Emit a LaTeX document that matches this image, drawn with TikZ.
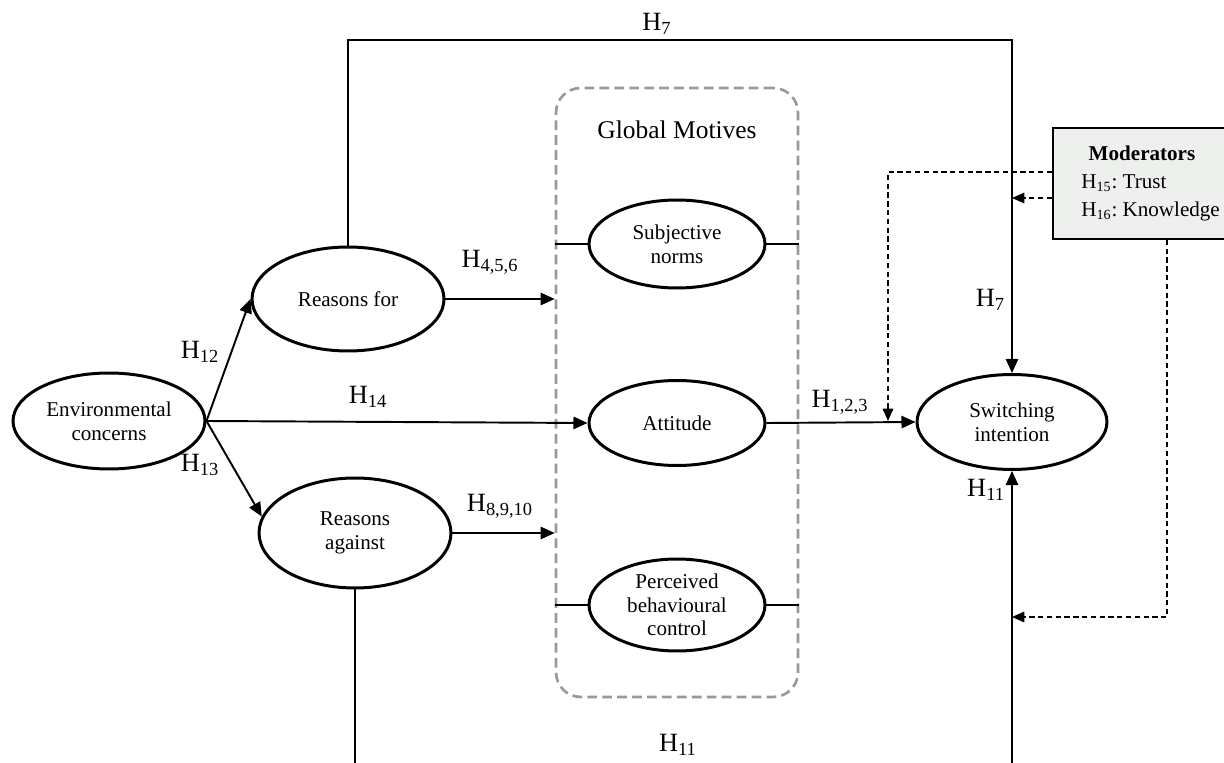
\documentclass[tikz,border=0pt]{standalone}
\usepackage{fontspec}
\setmainfont{Liberation Serif}
\usetikzlibrary{arrows.meta,shapes.geometric}
\definecolor{modfill}{HTML}{EEF0EE}
\definecolor{boxgray}{HTML}{999999}
\frenchspacing
\begin{document}
\begin{tikzpicture}[x=0.02cm,y=-0.02cm,
  ell/.style={draw,ellipse,line width=1.7pt,inner sep=0pt,align=center,font=\fontsize{12}{13.5}\selectfont},
  arr/.style={line width=1.1pt,-{Triangle[length=8pt,width=7pt]}},
  ln/.style={line width=1.1pt},
  hl/.style={font=\fontsize{15}{17}\selectfont,inner sep=1pt},
  dsh/.style={line width=0.8pt,dash pattern=on 3pt off 2pt},
  darr/.style={dsh,-{Triangle[length=7pt,width=6pt]}},
  modtext/.style={font=\fontsize{12}{14}\selectfont,inner sep=0pt}
]
\useasboundingbox (0,0) rectangle (1224,763);
\clip (0,0) rectangle (1224,763);

% global motives box
\node[draw=boxgray,line width=1.5pt,dash pattern=on 5.5pt off 3pt,rounded corners=14pt,
      minimum width=4.84cm,minimum height=12.18cm,inner sep=0pt] (gmbox) at (677,392.5) {};
\node[font=\fontsize{14.5}{16}\selectfont] (gm) at (677,130) {Global Motives};

% ellipses
\node[ell,minimum width=3.84cm,minimum height=1.92cm] (env) at (109,421) {Environmental\\concerns};
\node[ell,minimum width=3.84cm,minimum height=2.08cm] (rf) at (348,299) {Reasons for};
\node[ell,minimum width=3.84cm,minimum height=2.2cm] (ra) at (355,533) {Reasons\\against};
\node[ell,minimum width=3.52cm,minimum height=1.76cm] (sn) at (677,244) {Subjective\\norms};
\node[ell,minimum width=3.52cm,minimum height=1.7cm] (att) at (677,423) {Attitude};
\node[ell,minimum width=3.52cm,minimum height=1.84cm] (pbc) at (677,605) {Perceived\\behavioural\\control};
\node[ell,minimum width=3.8cm,minimum height=1.9cm] (si) at (1012,422) {Switching\\intention};

% moderators box
\node[draw,line width=1.1pt,fill=modfill,anchor=north west,minimum width=3.8cm,minimum height=2.22cm,inner sep=0pt] (mod) at (1052,127) {};
\node[modtext,font=\fontsize{12}{14}\selectfont\bfseries] (modt) at (1142,153) {Moderators};
\node[modtext,anchor=west] (m15) at (1081,183) {H\textsubscript{15}: Trust};
\node[modtext,anchor=west] (m16) at (1081,211) {H\textsubscript{16}: Knowledge};

% helper coordinates
\coordinate (top) at (0,40);
\coordinate (bot) at (0,780);
\coordinate (y617) at (0,617);
\coordinate (y172) at (0,172);
\coordinate (y198) at (0,198);
\coordinate (x1167) at (1167,0);
\coordinate (m1) at (888,421);

% connectors
\draw[arr] (env.east) -- (rf.west);
\draw[arr] (env.east) -- (ra.170);
\draw[arr] (env.east) -- (att.west);
\draw[arr] (rf.east) -- (rf.east -| gmbox.west);
\draw[arr] (ra.east) -- (ra.east -| gmbox.west);
\draw[ln] (sn.west -| gmbox.west) -- (sn.west);
\draw[ln] (sn.east) -- (sn.east -| gmbox.east);
\draw[ln] (pbc.west -| gmbox.west) -- (pbc.west);
\draw[ln] (pbc.east) -- (pbc.east -| gmbox.east);
\draw[arr] (att.east) -- (si.west);
\draw[arr] (rf.north) -- (rf.north |- top) -| (si.north);
\draw[ln] (ra.south) -- (ra.south |- bot);
\draw[arr] (si.south |- bot) -- (si.south);

% moderator dashed connectors
\draw[darr] (mod.west |- y172) -| (m1);
\draw[darr] (mod.west |- y198) -- (si.north |- y198);
\draw[darr] (x1167 |- mod.south) -- (x1167 |- y617) -- (si.south |- y617);

% labels
\node[hl] (h7a) at (657,24) {H\textsubscript{7}};
\node[hl,anchor=east] (h7b) at (1007,300) {H\textsubscript{7}};
\node[hl] (h12) at (200,352) {H\textsubscript{12}};
\node[hl] (h13) at (200,465) {H\textsubscript{13}};
\node[hl] (h14) at (368,397) {H\textsubscript{14}};
\node[hl] (h456) at (490,262) {H\textsubscript{4,5,6}};
\node[hl] (h8910) at (500,506) {H\textsubscript{8,9,10}};
\node[hl] (h123) at (840,402) {H\textsubscript{1,2,3}};
\node[hl] (h11a) at (678,745) {H\textsubscript{11}};
\node[hl,anchor=east] (h11b) at (1007,490) {H\textsubscript{11}};
\end{tikzpicture}
\end{document}
